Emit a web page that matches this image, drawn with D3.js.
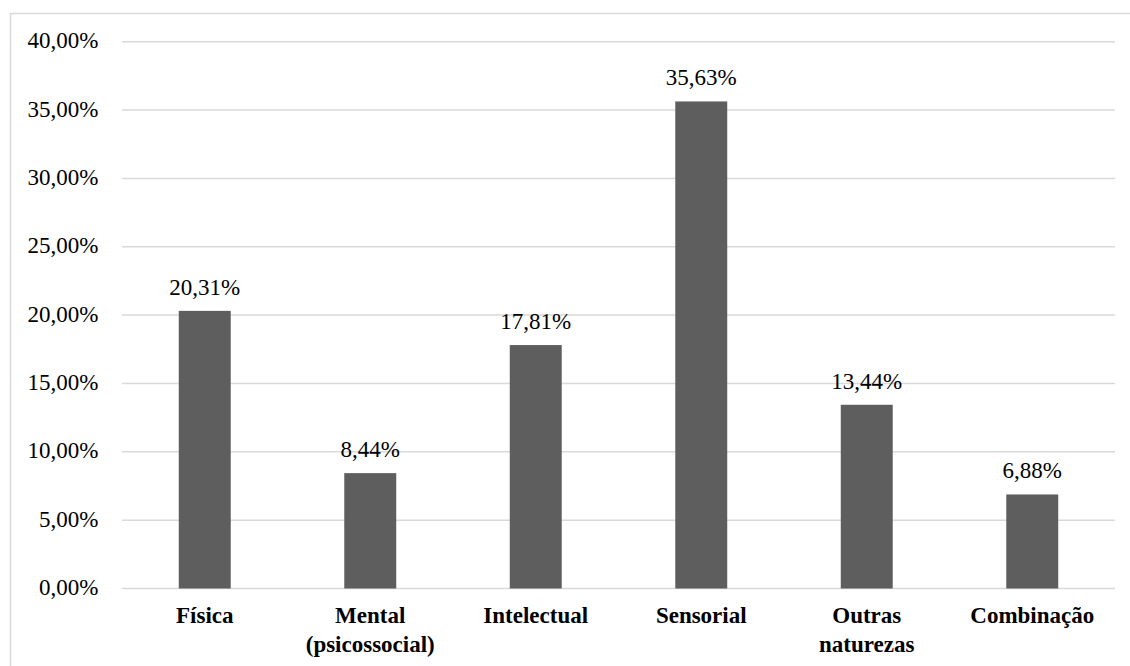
<!DOCTYPE html>
<html><head><meta charset="utf-8">
<script src="https://cdn.jsdelivr.net/npm/d3@7"></script>
</head><body style="margin:0">
<script>
const categories = [["Física"],["Mental","(psicossocial)"],["Intelectual"],["Sensorial"],["Outras","naturezas"],["Combinação"]];
const values = [20.31, 8.44, 17.81, 35.63, 13.44, 6.88];
const yTicks = [0,5,10,15,20,25,30,35,40];

const W = 1130, H = 666;
const m = {left:122, right:15, top:41.7, bottom:77.5};
const FF = '"Liberation Serif", "Times New Roman", serif';
const svg = d3.select("body").append("svg").attr("width",W).attr("height",H)
  .style("display","block").style("font-family",FF);

svg.append("rect").attr("x",10.5).attr("y",13.5).attr("width",1130).attr("height",700)
  .attr("fill","none").attr("stroke","#d9d9d9").attr("stroke-width",1.5);

const x = d3.scaleBand().domain(d3.range(categories.length)).range([m.left, W-m.right]).paddingInner(0.686).paddingOuter(0.343);
const y = d3.scaleLinear().domain([0,40]).range([H-m.bottom, m.top]);

const fmt = v => d3.format(".2f")(v).replace(".",",") + "%";

svg.append("g").selectAll("line").data(yTicks).join("line")
  .attr("x1",m.left).attr("x2",W-m.right)
  .attr("y1",d=>y(d)).attr("y2",d=>y(d))
  .attr("stroke","#d9d9d9").attr("stroke-width",1.5);

svg.append("g").selectAll("text").data(yTicks).join("text")
  .attr("x",98.5).attr("y",d=>y(d)+6.5).attr("text-anchor","end")
  .style("font-family",FF).style("font-size","23px").attr("fill","#000")
  .text(d=>fmt(d));

svg.append("g").selectAll("rect").data(values).join("rect")
  .attr("x",(d,i)=>x(i)).attr("width",x.bandwidth())
  .attr("y",d=>y(d)).attr("height",d=>y(0)-y(d)).attr("fill","#5e5e5e");

svg.append("g").selectAll("text").data(values).join("text")
  .attr("x",(d,i)=>x(i)+x.bandwidth()/2).attr("y",d=>y(d)-16)
  .attr("text-anchor","middle").style("font-family",FF).style("font-size","23px").attr("fill","#000")
  .text(d=>fmt(d));

const cl = svg.append("g").selectAll("text").data(categories).join("text")
  .attr("x",(d,i)=>x(i)+x.bandwidth()/2).attr("y",623)
  .attr("text-anchor","middle").style("font-family",FF).style("font-size","23px").style("font-weight","bold").attr("fill","#000");
cl.selectAll("tspan").data(d=>d).join("tspan")
  .attr("x",function(){return d3.select(this.parentNode).attr("x");})
  .attr("dy",(d,i)=>i===0?0:28.5).text(d=>d);
</script>
</body></html>
